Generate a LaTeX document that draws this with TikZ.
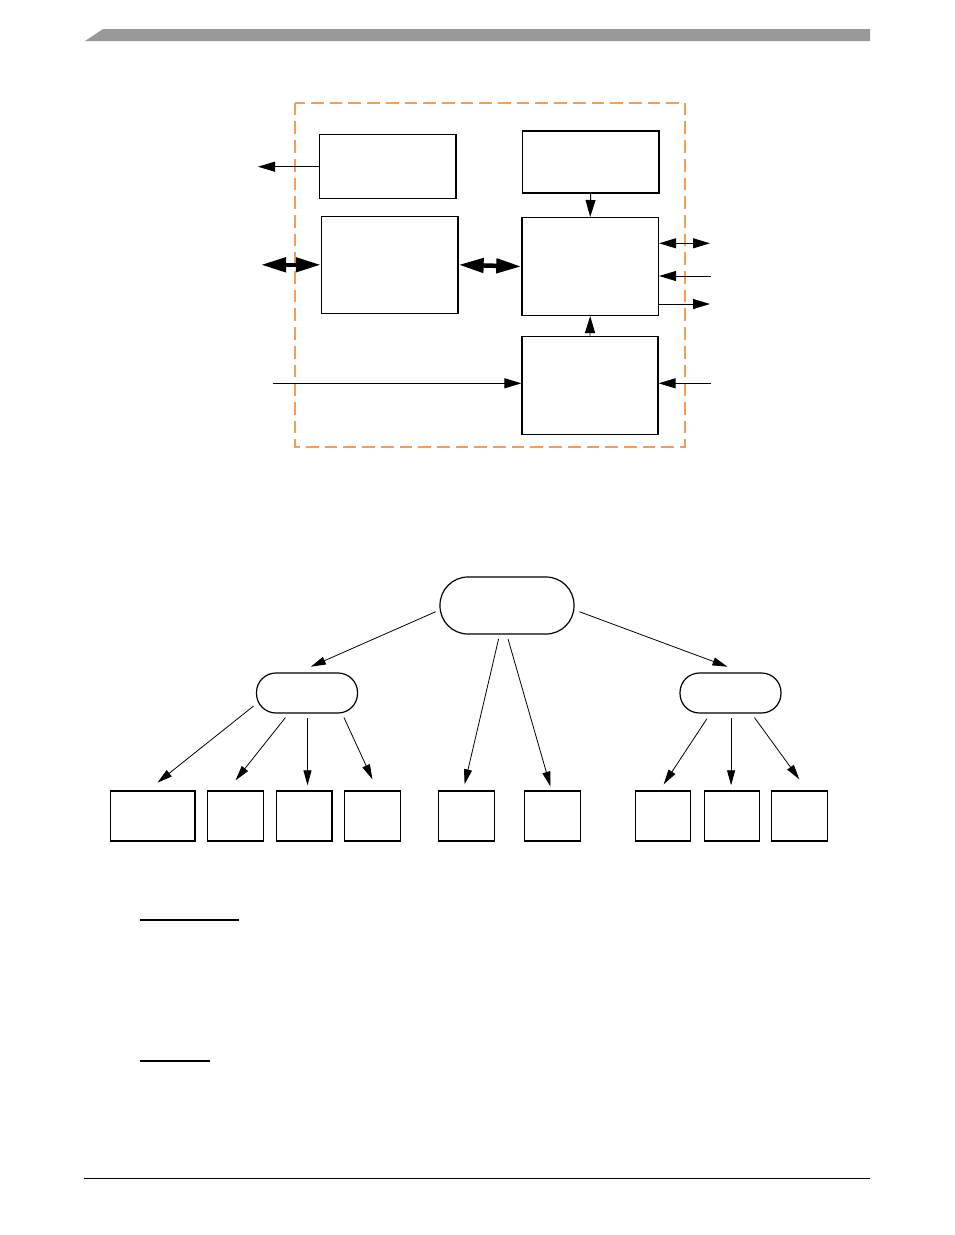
\documentclass[tikz,border=0pt]{standalone}
\usetikzlibrary{arrows.meta}

\definecolor{dashorange}{RGB}{246,157,82}
\definecolor{bargray}{RGB}{153,153,153}

\tikzset{
  blockbox/.style={draw, line width=1.5pt, inner sep=0pt},
  leafbox/.style={draw, line width=1.4pt, inner sep=0pt, minimum height=50pt},
  pill/.style={draw, line width=1.2pt, inner sep=0pt},
  sig/.style={line width=0.9pt, -{Triangle[length=17pt,width=10pt]}},
  bisig/.style={line width=0.9pt, {Triangle[length=17pt,width=10pt]}-{Triangle[length=17pt,width=10pt]}},
  busarrow/.style={line width=4.5pt, {Triangle[length=25pt,width=14pt]}-{Triangle[length=25pt,width=14pt]}},
  branch/.style={line width=0.8pt, -{Triangle[length=15pt,width=8pt]}},
  rule/.style={line width=1.3pt},
}

\begin{document}
\begin{tikzpicture}[x=1pt,y=-1pt]
 \useasboundingbox (0,0) rectangle (954,1235);

 % page header and footer
 \fill[bargray] (85,41) -- (103,29) -- (870,29) -- (870,41) -- cycle;
 \draw[rule] (84,1178.3) -- (870,1178.3);

 % block diagram
 \draw[dashorange, line width=2pt, dash pattern=on 12.7pt off 6pt] (295,102.7) rectangle (685,447);

 \node[blockbox, minimum width=136.7pt, minimum height=64pt] (boxA) at (387.7,166.7) {};
 \node[blockbox, minimum width=136.7pt, minimum height=62.3pt] (boxB) at (590.7,161.9) {};
 \node[blockbox, line width=1.2pt, minimum width=136.7pt, minimum height=97pt] (boxC) at (389.7,264.8) {};
 \node[blockbox, minimum width=136.3pt, minimum height=97.6pt] (boxD) at (590.2,266.5) {};
 \node[blockbox, line width=1.2pt, minimum width=136pt, minimum height=97.6pt] (boxE) at (590,385.5) {};

 \coordinate (aout) at (258,166.7);
 \coordinate (cbus) at (261,264.8);
 \coordinate (dio) at (710,243.3);
 \coordinate (din) at (711,276);
 \coordinate (dout) at (710,304);
 \coordinate (ein) at (711,383.3);
 \coordinate (lin) at (272.7,383.3);

 \draw[sig] (boxA.west) -- (aout);
 \draw[busarrow] (cbus) -- (boxC.west);
 \draw[busarrow] (boxC.east) -- (boxD.west);
 \draw[sig] (boxB.south) -- (boxD.north);
 \draw[sig] (boxE.north) -- (boxD.south);
 \draw[bisig] (dio -| boxD.east) -- (dio);
 \draw[sig] (din) -- (din -| boxD.east);
 \draw[sig] (dout -| boxD.east) -- (dout);
 \draw[sig] (ein) -- (ein -| boxE.east);
 \draw[sig] (lin) -- (lin -| boxE.west);

 % tree
 \node[pill, minimum width=134pt, minimum height=57pt, rounded corners=28pt] (root) at (507,605.5) {};
 \node[pill, minimum width=101pt, minimum height=40pt, rounded corners=19.5pt] (lmid) at (307,693) {};
 \node[pill, minimum width=101pt, minimum height=40pt, rounded corners=19.5pt] (rmid) at (730.5,693) {};

 \foreach \n/\cx/\w in {1/152.6/84.4, 2/235.6/56.2, 3/304.2/55.6, 4/372.4/56.2, 5/466.3/56.1,
                       6/552.4/55.7, 7/663/55.2, 8/731.8/55.2, 9/799.3/56.2}
   \node[leafbox, minimum width=\w pt] (leaf\n) at (\cx,816) {};

 \draw[branch] ([xshift=-3.7pt,yshift=-6.2pt]root.west) -- ([xshift=3.8pt,yshift=5.7pt]lmid.north);
 \draw[branch] ([xshift=4.8pt,yshift=-6.2pt]root.east) -- ([xshift=-3pt,yshift=5.7pt]rmid.north);
 \draw[branch] ([xshift=-8.4pt,yshift=-4.3pt]root.south) -- ([xshift=-1.7pt,yshift=6pt]leaf5.north);
 \draw[branch] ([xshift=1pt,yshift=-4.3pt]root.south) -- ([xshift=-1.9pt,yshift=3.7pt]leaf6.north);

 \draw[branch] ([xshift=-2.3pt,yshift=-13pt]lmid.west) -- ([xshift=4.9pt,yshift=7.7pt]leaf1.north);
 \draw[branch] ([xshift=-21.6pt,yshift=-4pt]lmid.south) -- ([yshift=10pt]leaf2.north);
 \draw[branch] ([xshift=0.5pt,yshift=-4.7pt]lmid.south) -- ([xshift=3.3pt,yshift=5pt]leaf3.north);
 \draw[branch] ([xshift=37pt,yshift=-4pt]lmid.south) -- ([yshift=11pt]leaf4.north);

 \draw[branch] ([xshift=-23.5pt,yshift=-5pt]rmid.south) -- ([xshift=0.7pt,yshift=6pt]leaf7.north);
 \draw[branch] ([xshift=0.6pt,yshift=-4.7pt]rmid.south) -- ([xshift=-0.7pt,yshift=5pt]leaf8.north);
 \draw[branch] ([xshift=24pt,yshift=-4pt]rmid.south) -- ([yshift=11pt]leaf9.north);

 % underlines
 \draw[rule] (140,920) -- (239.3,920);
 \draw[rule] (140,1061) -- (210,1061);
\end{tikzpicture}
\end{document}
